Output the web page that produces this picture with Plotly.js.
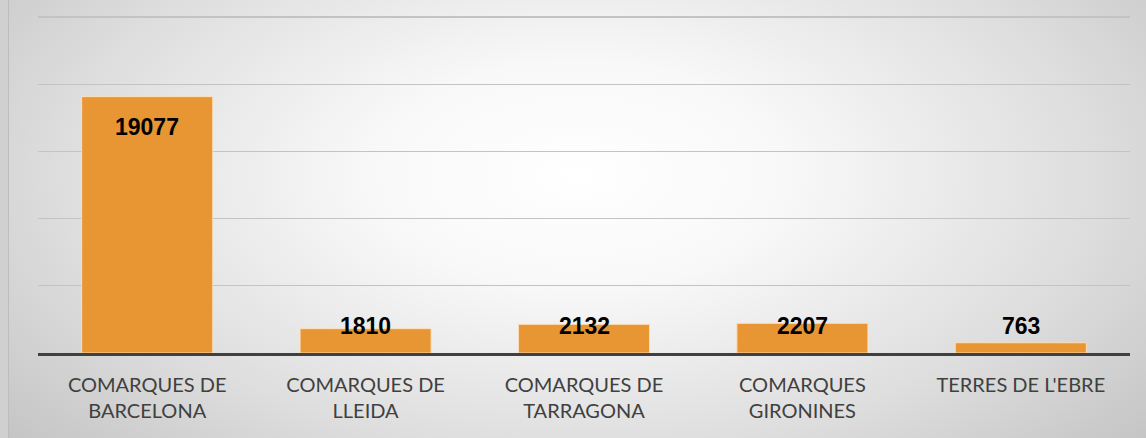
<!DOCTYPE html>
<html>
<head>
<meta charset="utf-8">
<script src="https://cdn.plot.ly/plotly-3.0.1.min.js"></script>
<style>
  html, body { margin: 0; padding: 0; background: #d0d0d0; overflow: hidden; }
  #wrap { position: relative; width: 1146px; height: 438px; overflow: hidden; }
  #bg {
    position: absolute; left: 8px; top: 0; width: 1138px; height: 438px;
    background: radial-gradient(ellipse 66% 92% at 50% 40%, #ffffff 0%, #f8f8f8 28%, #dedede 68%, #c5c5c5 100%);
    border-left: 1px solid #bdbdbd;
  }
  #chart { position: absolute; left: 0; top: 0; width: 1146px; height: 438px; }
</style>
</head>
<body>
<div id="wrap"><div id="bg"></div><div id="chart"></div></div>
<script>
const categories = ["COMARQUES DE<br>BARCELONA", "COMARQUES DE<br>LLEIDA", "COMARQUES DE<br>TARRAGONA", "COMARQUES<br>GIRONINES", "TERRES DE L'EBRE"];
const values = [19077, 1810, 2132, 2207, 763];
const labels = ["19077", "1810", "2132", "2207", "763"];

const trace = {
  type: 'bar',
  x: categories,
  y: values,
  marker: { color: '#e89534', line: { color: 'rgba(255,225,190,0.9)', width: 1 } },
  hoverinfo: 'skip'
};

const annotations = categories.map((c, i) => ({
  x: c,
  y: values[i] > 5000 ? values[i] : 0,
  yref: 'y', xref: 'x',
  text: '<b>' + labels[i] + '</b>',
  showarrow: false,
  yanchor: 'middle',
  yshift: values[i] > 5000 ? -30 : 27,
  font: { family: 'Liberation Sans, Arial, sans-serif', size: 23, color: '#000000' }
}));

const layout = {
  width: 1146, height: 438,
  margin: { l: 38, r: 16, t: 13, b: 85 },
  paper_bgcolor: 'rgba(0,0,0,0)',
  plot_bgcolor: 'rgba(0,0,0,0)',
  bargap: 0.4,
  showlegend: false,
  xaxis: {
    showline: true, linecolor: '#404040', linewidth: 3,
    ticks: '', showgrid: false,
    tickfont: { family: 'Lato, Liberation Sans, sans-serif', size: 20, color: '#404040' },
    ticklabelstandoff: 12,
    fixedrange: true
  },
  yaxis: {
    range: [0, 25300], tick0: 0, dtick: 5000,
    showticklabels: false, ticks: '',
    showgrid: true, gridcolor: '#c3c3c3', gridwidth: 1.3,
    zeroline: false, showline: false,
    fixedrange: true
  },
  annotations: annotations
};

Plotly.newPlot('chart', [trace], layout, { displayModeBar: false, staticPlot: true });
</script>
</body>
</html>
